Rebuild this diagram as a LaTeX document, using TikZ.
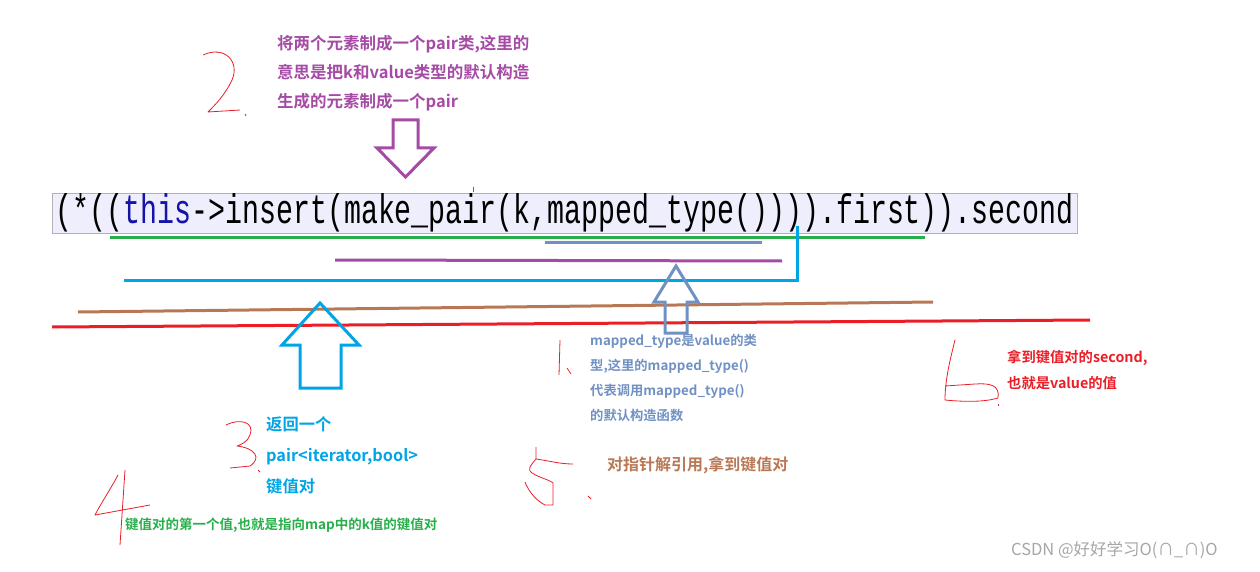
\documentclass[tikz,border=0pt]{standalone}
\usepackage{fontspec}
\newfontfamily\cjk{Noto Sans CJK SC}[BoldFont={Noto Sans CJK SC Bold}]
\newfontfamily\cjkreg{Noto Sans CJK SC}
\setmonofont{Liberation Mono}
\definecolor{cpur}{RGB}{165,75,165}
\definecolor{csteel}{RGB}{112,145,195}
\definecolor{ccyan}{RGB}{0,165,230}
\definecolor{cbrown}{RGB}{185,120,85}
\definecolor{cgreen}{RGB}{40,175,75}
\definecolor{cred}{RGB}{235,30,40}
\definecolor{cbox}{RGB}{238,238,252}
\begin{document}
\begin{tikzpicture}[x=1pt,y=-1pt,
  lbl/.style={anchor=north west,inner sep=0,align=left,font=\cjk\bfseries},
  hand/.style={draw=cred,line width=0.8pt,line join=round},
  hollow/.style={line width=3pt}]
\useasboundingbox (0,0) rectangle (1260,572);
% code
\node[draw=gray!60,fill=cbox,minimum width=1025pt,minimum height=40pt,anchor=north west,inner sep=0] (code) at (52,193) {};
\node[inner sep=0] (codetext) at (code.center) {\resizebox{1018pt}{30pt}{\ttfamily (*((\textcolor[RGB]{20,20,170}{this}->insert(make\_pair(k,mapped\_type()))).first)).second}};
\draw[orange!70!black,line width=1pt] (473,187) -- (473,192);
% underlines
\draw[cgreen,line width=3pt] (110,237) coordinate (g1) -- (925,237) coordinate (g2);
\draw[csteel,line width=3pt] (545,242) coordinate (s1) -- (762,242) coordinate (s2);
\draw[cpur,line width=3pt] (335,260) coordinate (p1) -- (782,261) coordinate (p2);
\draw[ccyan,line width=3pt] (124,280) coordinate (c1) -- (797,280) coordinate (c2) -- (797,226) coordinate (c3);
\draw[cbrown,line width=3pt] (78,312) coordinate (b1) -- (933,302) coordinate (b2);
\draw[cred,line width=3pt] (52,327) coordinate (r1) -- (1090,320) coordinate (r2);
% hollow arrows
\draw[cpur,hollow,line join=miter] (393,120) -- (418,120) -- (418,148) -- (434,148) -- (405.5,177) -- (377,148) -- (393,148) -- cycle;
\draw[ccyan,hollow,line join=miter] (300,388) -- (341,388) -- (341,345) -- (359,345) -- (320,303) -- (282,345) -- (300,345) -- cycle;
\draw[csteel,hollow,line join=miter] (665,333) -- (687,333) -- (687,302) -- (698,302) -- (676,266) -- (654,302) -- (665,302) -- cycle;
% texts
\node[lbl,text=cpur,font=\cjk\bfseries\fontsize{16.5}{29}\selectfont] (t2) at (277,35) {将两个元素制成一个pair类,这里的\\意思是把k和value类型的默认构造\\生成的元素制成一个pair};
\node[lbl,text=csteel,font=\cjk\bfseries\fontsize{13.3}{25}\selectfont] (t1) at (590,334) {mapped\_type是value的类\\型,这里的mapped\_type()\\代表调用mapped\_type()\\的默认构造函数};
\node[lbl,text=cred,font=\cjk\bfseries\fontsize{14.3}{26}\selectfont] (t6) at (1007,350) {拿到键值对的second,\\也就是value的值};
\node[lbl,text=ccyan,font=\cjk\bfseries\fontsize{16.3}{31}\selectfont] (t3) at (266,416) {返回一个\\pair<iterator,bool>\\键值对};
\node[lbl,text=cbrown,font=\cjk\bfseries\fontsize{16}{18}\selectfont] (t5) at (607,456) {对指针解引用,拿到键值对};
\node[lbl,text=cgreen,font=\cjk\bfseries\fontsize{13.5}{15}\selectfont] (t4) at (125,518) {键值对的第一个值,也就是指向map中的k值的键值对};
\node[lbl,text=gray!70,font=\cjkreg\fontsize{16.5}{18}\selectfont] (wm) at (1011,541) {CSDN @好好学习O(∩\_∩)O};
% handwritten numerals
\draw[hand] (203,55) .. controls (225,45) and (240,62) .. (232,80) .. controls (225,95) and (215,105) .. (208,112) -- (240,110);
\draw[hand] (245,114) -- (246,116);
\draw[hand] (560,340) -- (559,375);
\draw[hand] (567,368) -- (571,374);
\draw[hand] (955,340) .. controls (950,360) and (945,380) .. (945,400) .. controls (965,402) and (985,402) .. (998,398) .. controls (1000,385) and (990,383) .. (975,384) -- (945,386);
\draw[hand] (998,404) -- (998,406);
\draw[hand] (226,425) .. controls (240,418) and (255,422) .. (250,435) .. controls (248,442) and (240,445) .. (237,446) .. controls (255,448) and (262,458) .. (250,466) -- (230,468);
\draw[hand] (258,470) -- (260,472);
\draw[hand] (118,475) .. controls (110,490) and (100,505) .. (95,515) -- (150,505);
\draw[hand] (125,470) -- (120,545);
\draw[hand] (536,447) -- (536,459) .. controls (550,461) and (560,464) .. (573,464);
\draw[hand] (536,459) .. controls (530,466) and (527,470) .. (532,473) .. controls (540,478) and (550,480) .. (553,483) -- (553,505) -- (545,505) .. controls (535,500) and (528,490) .. (525,482);
\draw[hand] (588,496) -- (591,499);
\end{tikzpicture}
\end{document}
